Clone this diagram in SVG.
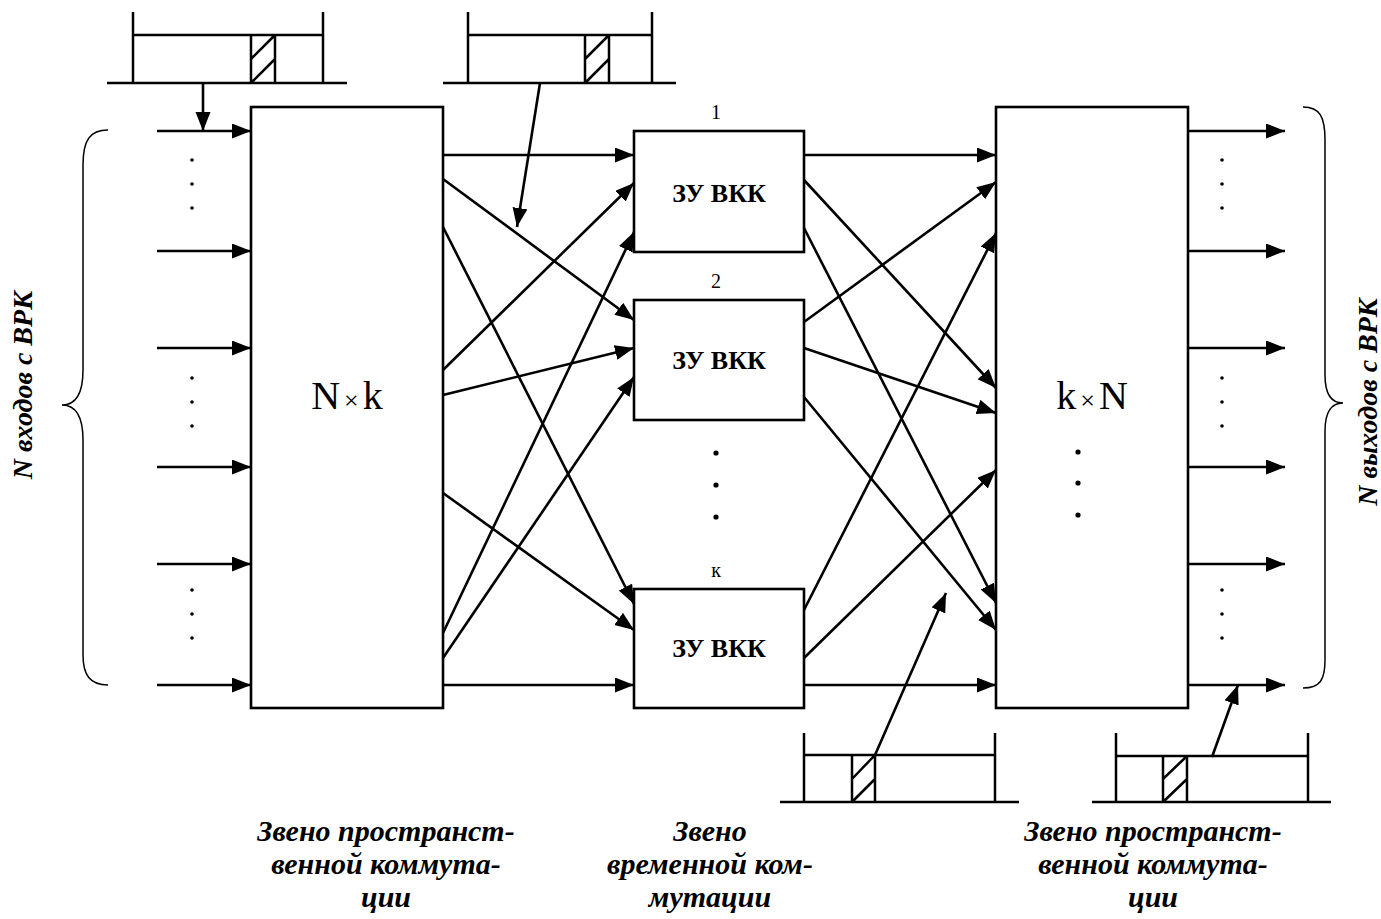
<svg xmlns="http://www.w3.org/2000/svg" width="1381" height="919" viewBox="0 0 1381 919">
<style>
.ln{stroke:#000;stroke-width:2.5;fill:none}
.ar{stroke:#000;stroke-width:2.6;fill:none;marker-end:url(#ah)}
.box{stroke:#000;stroke-width:2.6;fill:#fff}
.br{stroke:#000;stroke-width:1.5;fill:none}
.lbl{font-family:"Liberation Serif","Times New Roman",serif;font-weight:bold;font-style:italic;font-size:30px;text-anchor:middle}
.rot{font-family:"Liberation Serif","Times New Roman",serif;font-weight:bold;font-style:italic;font-size:28px;text-anchor:middle}
.zu{font-family:"Liberation Serif","Times New Roman",serif;font-weight:bold;font-size:26px;text-anchor:middle}
.num{font-family:"Liberation Serif","Times New Roman",serif;font-size:20px;text-anchor:middle}
.big{font-family:"Liberation Serif","Times New Roman",serif;font-size:40px;text-anchor:middle}
</style>
<defs>
<marker id="ah" markerUnits="userSpaceOnUse" markerWidth="20" markerHeight="16" refX="19" refY="7.5" orient="auto"><path d="M0,0 L19,7.5 L0,15 z" fill="#000"/></marker>
</defs>
<rect width="1381" height="919" fill="#fff"/>

<g id="connectors">
<!-- inputs -->
<line class="ar" x1="157" y1="131" x2="251" y2="131"/>
<line class="ar" x1="157" y1="251" x2="251" y2="251"/>
<line class="ar" x1="157" y1="348" x2="251" y2="348"/>
<line class="ar" x1="157" y1="467" x2="251" y2="467"/>
<line class="ar" x1="157" y1="564" x2="251" y2="564"/>
<line class="ar" x1="157" y1="685" x2="251" y2="685"/>
<!-- left to middle -->
<line class="ar" x1="443" y1="155" x2="634" y2="155"/>
<line class="ar" x1="443" y1="179" x2="634" y2="320"/>
<line class="ar" x1="443" y1="227" x2="634" y2="604"/>
<line class="ar" x1="443" y1="370" x2="634" y2="183"/>
<line class="ar" x1="443" y1="395" x2="634" y2="348"/>
<line class="ar" x1="443" y1="493" x2="634" y2="630"/>
<line class="ar" x1="443" y1="633" x2="634" y2="232"/>
<line class="ar" x1="443" y1="658" x2="634" y2="377"/>
<line class="ar" x1="443" y1="685" x2="634" y2="685"/>
<!-- middle to right -->
<line class="ar" x1="804" y1="155" x2="996" y2="155"/>
<line class="ar" x1="804" y1="180" x2="996" y2="388"/>
<line class="ar" x1="804" y1="228" x2="996" y2="603"/>
<line class="ar" x1="804" y1="322" x2="996" y2="182"/>
<line class="ar" x1="804" y1="348" x2="996" y2="413"/>
<line class="ar" x1="804" y1="397" x2="996" y2="630"/>
<line class="ar" x1="804" y1="610" x2="996" y2="233"/>
<line class="ar" x1="804" y1="658" x2="996" y2="470"/>
<line class="ar" x1="804" y1="685" x2="996" y2="685"/>
<!-- outputs -->
<line class="ar" x1="1188" y1="131" x2="1285" y2="131"/>
<line class="ar" x1="1188" y1="251" x2="1285" y2="251"/>
<line class="ar" x1="1188" y1="348" x2="1285" y2="348"/>
<line class="ar" x1="1188" y1="467" x2="1285" y2="467"/>
<line class="ar" x1="1188" y1="564" x2="1285" y2="564"/>
<line class="ar" x1="1188" y1="685" x2="1285" y2="685"/>
<!-- buffer pointers -->
<line class="ar" x1="203" y1="83" x2="203" y2="131"/>
<line class="ar" x1="540" y1="83" x2="517" y2="227"/>
<line class="ar" x1="875" y1="755" x2="946" y2="593"/>
<line class="ar" x1="1212" y1="757" x2="1238" y2="685"/>
</g>

<g id="node-nxk">
<rect class="box" x="251" y="107" width="192" height="601"/>
<text class="big" x="347" y="409">N<tspan font-size="26" dx="4">×</tspan><tspan dx="4">k</tspan></text>
</g>
<g id="node-zu1">
<rect class="box" x="634" y="131" width="170" height="121"/>
<text class="num" x="716" y="119">1</text>
<text class="zu" x="719" y="202">ЗУ ВКК</text>
</g>
<g id="node-zu2">
<rect class="box" x="634" y="300" width="170" height="120"/>
<text class="num" x="716" y="288">2</text>
<text class="zu" x="719" y="369">ЗУ ВКК</text>
</g>
<g id="node-zuk">
<rect class="box" x="634" y="589" width="170" height="119"/>
<text class="num" x="716" y="577">к</text>
<text class="zu" x="719" y="657">ЗУ ВКК</text>
</g>
<g id="node-kxn">
<rect class="box" x="996" y="107" width="192" height="601"/>
<text class="big" x="1092" y="409">k<tspan font-size="26" dx="4">×</tspan><tspan dx="4">N</tspan></text>
</g>

<g id="dots" fill="#000">
<circle cx="192" cy="160" r="1.8"/><circle cx="192" cy="184" r="1.8"/><circle cx="192" cy="208" r="1.8"/>
<circle cx="192" cy="378" r="1.8"/><circle cx="192" cy="402" r="1.8"/><circle cx="192" cy="426" r="1.8"/>
<circle cx="192" cy="590" r="1.8"/><circle cx="192" cy="614" r="1.8"/><circle cx="192" cy="638" r="1.8"/>
<circle cx="1222" cy="160" r="1.8"/><circle cx="1222" cy="184" r="1.8"/><circle cx="1222" cy="208" r="1.8"/>
<circle cx="1222" cy="378" r="1.8"/><circle cx="1222" cy="402" r="1.8"/><circle cx="1222" cy="426" r="1.8"/>
<circle cx="1222" cy="590" r="1.8"/><circle cx="1222" cy="614" r="1.8"/><circle cx="1222" cy="638" r="1.8"/>
<circle cx="716" cy="453" r="2.6"/><circle cx="716" cy="485" r="2.6"/><circle cx="716" cy="517" r="2.6"/>
<circle cx="1078" cy="452" r="2.6"/><circle cx="1078" cy="483" r="2.6"/><circle cx="1078" cy="515" r="2.6"/>
</g>

<g id="buffer-top-left">
<path class="ln" d="M107,83 H347 M133,12 V83 M323,12 V83 M133,35 H323 M251,35 V83 M275,35 V83 M251,83 L275,59 M251,59 L275,35"/>
</g>
<g id="buffer-top-mid">
<path class="ln" d="M443,83 H676 M468,12 V83 M652,12 V83 M468,35 H652 M585,35 V83 M609,35 V83 M585,83 L609,59 M585,59 L609,35"/>
</g>
<g id="buffer-bot-mid">
<path class="ln" d="M780,802 H1019 M804,733 V802 M995,733 V802 M804,755 H995 M852,755 V802 M875,755 V802 M852,802 L875,779 M852,779 L875,755"/>
</g>
<g id="buffer-bot-right">
<path class="ln" d="M1092,802 H1331 M1116,733 V802 M1308,733 V802 M1116,756 H1308 M1163,756 V802 M1187,756 V802 M1163,802 L1187,779 M1163,779 L1187,756"/>
</g>

<g id="braces">
<path class="br" d="M108,130 C90,130 83,140 83,165 L83,370 C83,395 75,405 62,405 C75,405 83,415 83,440 L83,655 C83,675 90,685 108,685"/>
<path class="br" d="M1303,107 C1320,107 1325,117 1325,140 L1325,375 C1325,395 1332,403 1343,403 C1332,403 1325,411 1325,431 L1325,660 C1325,680 1320,688 1303,688"/>
</g>

<g id="labels">
<text class="rot" transform="translate(32,385) rotate(-90)">N входов с ВРК</text>
<text class="rot" transform="translate(1377,402) rotate(-90)">N выходов с ВРК</text>
<text class="lbl" x="386" y="841">Звено пространст-</text>
<text class="lbl" x="386" y="874">венной коммута-</text>
<text class="lbl" x="386" y="907">ции</text>
<text class="lbl" x="710" y="841">Звено</text>
<text class="lbl" x="710" y="874">временной ком-</text>
<text class="lbl" x="710" y="907">мутации</text>
<text class="lbl" x="1153" y="841">Звено пространст-</text>
<text class="lbl" x="1153" y="874">венной коммута-</text>
<text class="lbl" x="1153" y="907">ции</text>
</g>
</svg>
